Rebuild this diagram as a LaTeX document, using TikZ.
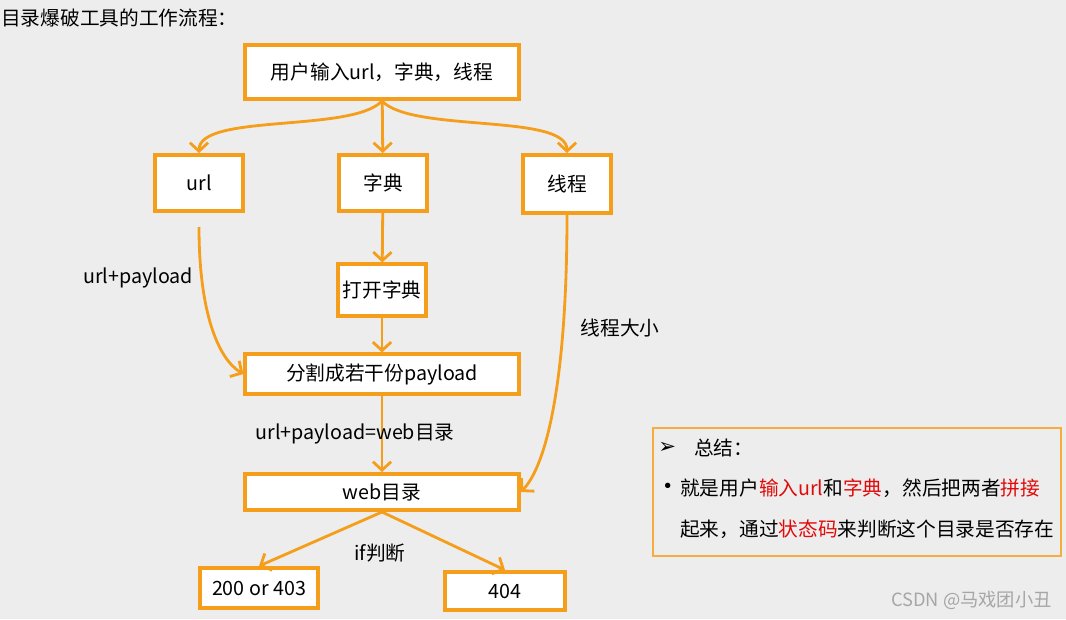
\documentclass[tikz,border=0pt]{standalone}
\usepackage{fontspec}
\setmainfont{Noto Sans CJK SC}
\newfontfamily\symfont{DejaVu Sans}
\usetikzlibrary{arrows.meta}
\definecolor{FlowOrange}{RGB}{245,158,27}
\definecolor{KeyRed}{RGB}{225,10,10}
\definecolor{SlideGray}{RGB}{237,237,237}

\begin{document}
\begin{tikzpicture}[x=0.025cm,y=-0.025cm]
				\tikzstyle{every node}=[font=\fontsize{14pt}{17pt}\selectfont, inner sep=0pt];
				\tikzstyle{box}=[draw=FlowOrange, line width=2.8pt, fill=white, minimum width=2.2cm, minimum height=1.4cm];
				\tikzstyle{flow}=[draw=FlowOrange, line width=2pt, -{Straight Barb[length=6pt,width=13pt]}];
				\fill [SlideGray] (0,0) rectangle (1066,619);
				\useasboundingbox (0,0) rectangle (1066,619);
				\node [anchor=west] (title) at (1,18) {目录爆破工具的工作流程：};
				\node [box, minimum width=6.83cm, minimum height=1.35cm] (root) at (382,72) {用户输入url，字典，线程};
				\node [box] (n01) at (199,183) {url};
				\node [box] (n02) at (383,183) {字典};
				\node [box, minimum height=1.45cm] (n03) at (567,184) {线程};
				\draw [flow] (root.south) .. controls +(-30,32) and +(0,-40) .. (n01.north);
				\draw [flow] (root) -- (n02);
				\draw [flow] (root.south) .. controls +(30,32) and +(0,-40) .. (n03.north);
				\node [box, minimum height=1.28cm] (n11) at (382,290) {打开字典};
				\draw [flow] (n02) -- (n11);
				\node [box, minimum width=6.83cm, minimum height=0.98cm] (n21) at (382,374) {分割成若干份payload};
				\draw [flow] (n11) -- (n21);
				\draw [flow, shorten <=10pt] (n01.south) .. controls +(0,100) and +(-25,-15) .. (n21.west);
				\node (t01) at (138,278) {url+payload};
				\node [box, minimum width=6.83cm, minimum height=0.9cm] (n31) at (382,492) {web目录};
				\draw [flow] (n21) -- (n31);
				\draw [flow] (n03.south) .. controls +(0,170) and +(25,-25) .. (n31.east);
				\node (t02) at (620,328) {线程大小};
				\node (t03) at (355,434) {url+payload=web目录};
				\node [box, minimum width=2.95cm, minimum height=1.0cm] (n41) at (259,588) {200 or 403};
				\node [box, minimum width=3.0cm, minimum height=0.95cm] (n42) at (505,591) {404};
				\draw [flow] (n31.south) -- (n41.north);
				\draw [flow] (n31.south) -- (n42.north);
				\node (t04) at (380,553) {if判断};
				\node [draw=FlowOrange!85, line width=1.4pt, anchor=north west, minimum width=10.2cm, minimum height=3.2cm] (sum) at (652,427) {};
				\node [anchor=west, font=\fontsize{15pt}{17pt}\symfont] (t05) at (658,448) {➢};
				\node [anchor=west] (t06) at (694,448) {总结：};
				\node [anchor=west, font=\fontsize{18pt}{18pt}\selectfont] (t07) at (655,489) {•};
				\node [anchor=west] (t08) at (680,488) {就是用户\textcolor{KeyRed}{输入url}和\textcolor{KeyRed}{字典}，然后把两者\textcolor{KeyRed}{拼接}};
				\node [anchor=west] (t09) at (680,529) {起来，通过\textcolor{KeyRed}{状态码}来判断这个目录是否存在};
				\node [anchor=east, text=gray!70, font=\fontsize{13pt}{15pt}\selectfont] (t10) at (1052,600) {CSDN @马戏团小丑};
			\end{tikzpicture}
\end{document}
